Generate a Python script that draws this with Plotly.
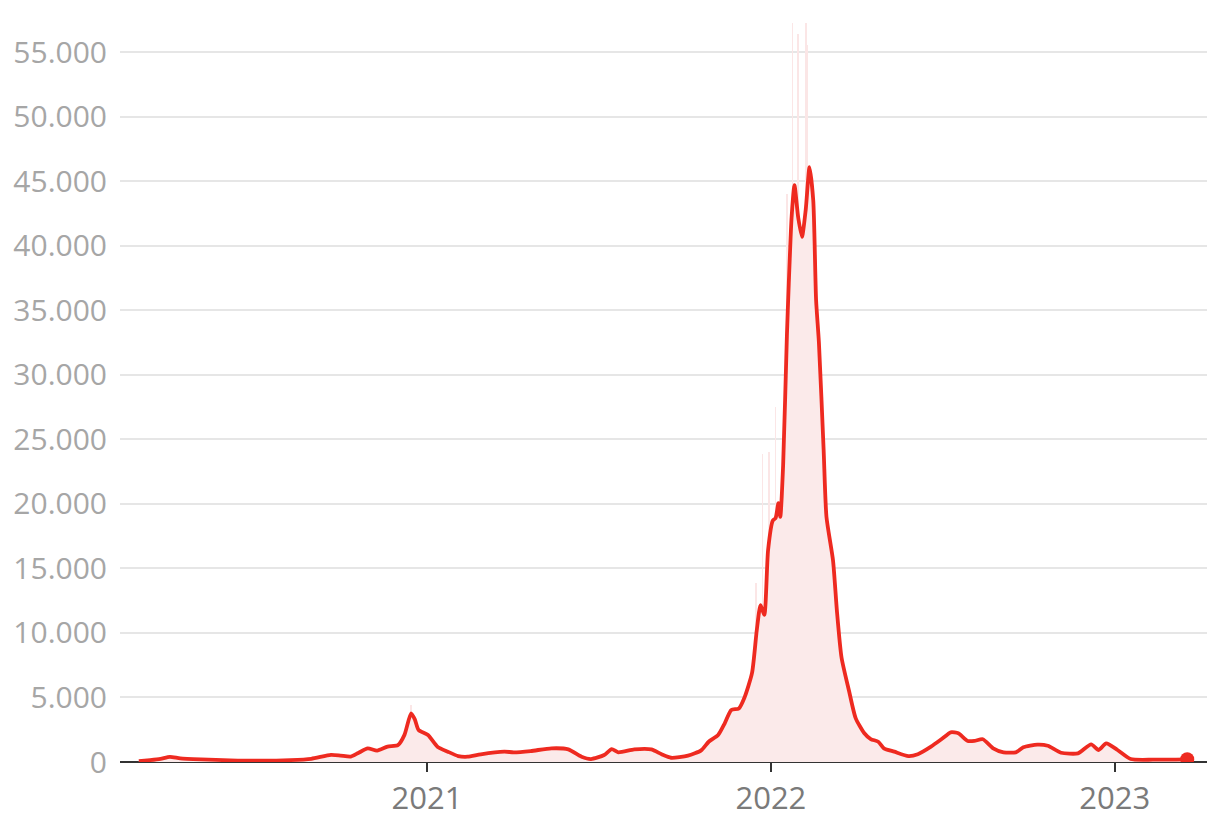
import plotly.graph_objects as go

# 7-day average of daily cases
dates = [
    "2020-03-01", "2020-03-13", "2020-03-24", "2020-04-03", "2020-04-14", "2020-05-06",
    "2020-06-06", "2020-07-08", "2020-08-09", "2020-08-31", "2020-09-21", "2020-10-01",
    "2020-10-12", "2020-10-20", "2020-10-30", "2020-11-09", "2020-11-20", "2020-12-01",
    "2020-12-08", "2020-12-15", "2020-12-19", "2020-12-23", "2021-01-02", "2021-01-12",
    "2021-01-23", "2021-02-03", "2021-02-13", "2021-02-27", "2021-03-24", "2021-04-03",
    "2021-04-21", "2021-05-13", "2021-05-31", "2021-06-14", "2021-06-24", "2021-07-08",
    "2021-07-16", "2021-07-23", "2021-08-09", "2021-08-27", "2021-09-07", "2021-09-17",
    "2021-10-05", "2021-10-19", "2021-10-27", "2021-11-06", "2021-11-13", "2021-11-20",
    "2021-11-28", "2021-12-04", "2021-12-12", "2021-12-17", "2021-12-21", "2021-12-25",
    "2021-12-29", "2022-01-03", "2022-01-06", "2022-01-09", "2022-01-11", "2022-01-14",
    "2022-01-18", "2022-01-20", "2022-01-23", "2022-01-26", "2022-01-30", "2022-02-03",
    "2022-02-07", "2022-02-11", "2022-02-15", "2022-02-18", "2022-02-21", "2022-02-26",
    "2022-03-01", "2022-03-08", "2022-03-12", "2022-03-17", "2022-03-25", "2022-04-01",
    "2022-04-10", "2022-04-17", "2022-04-25", "2022-05-01", "2022-05-12", "2022-05-27",
    "2022-06-06", "2022-06-20", "2022-07-01", "2022-07-11", "2022-07-19", "2022-07-29",
    "2022-08-05", "2022-08-14", "2022-08-25", "2022-09-05", "2022-09-18", "2022-09-26",
    "2022-10-11", "2022-10-22", "2022-11-05", "2022-11-23", "2022-12-07", "2022-12-15",
    "2022-12-23", "2023-01-04", "2023-01-18", "2023-02-11", "2023-03-19",
]
avg_cases = [
    60, 150, 250, 400, 280, 200,
    130, 100, 150, 250, 550, 500,
    420, 700, 1060, 880, 1190, 1300,
    2100, 3770, 3300, 2480, 2090, 1190,
    800, 460, 410, 600, 800, 750,
    850, 1060, 980, 410, 230, 540,
    1000, 750, 980, 980, 600, 330,
    490, 900, 1570, 2090, 3000, 4030,
    4150, 5000, 6900, 10200, 12150, 11400,
    16400, 18700, 18900, 20050, 19000, 23000,
    33000, 37100, 42200, 44700, 42200, 40700,
    42800, 46100, 43500, 35800, 32500, 24200,
    19000, 15600, 11800, 8100, 5500, 3400,
    2250, 1780, 1570, 1060, 800, 460,
    600, 1190, 1760, 2300, 2220, 1630,
    1630, 1760, 1060, 750, 750, 1140,
    1350, 1260, 720, 670, 1370, 930,
    1450, 930, 230, 180, 210,
]

# Daily values that stand out above the average (spikes)
spike_dates = [
    "2020-12-15", "2021-12-16", "2021-12-23", "2021-12-30", "2022-01-06",
    "2022-01-18", "2022-01-24", "2022-01-30", "2022-02-07", "2022-02-09",
]
spike_cases = [
    4400, 13900, 23900, 24000, 27500,
    44000, 57300, 56400, 57300, 55600,
]

tick_years = ["2021-01-01", "2022-01-01", "2023-01-01"]
tick_year_labels = ["2021", "2022", "2023"]
y_ticks = [0, 5000, 10000, 15000, 20000, 25000, 30000, 35000, 40000, 45000, 50000, 55000]

RED = "#ee2a20"
PINK = "#fbeaea"

fig = go.Figure()
fig.add_trace(go.Bar(x=spike_dates, y=spike_cases, marker=dict(color="#fbe6e6", line=dict(width=0)),
                     width=86400000 * 0.8, hoverinfo="skip", showlegend=False))
fig.add_trace(go.Scatter(x=dates, y=avg_cases, mode="lines", fill="tozeroy", fillcolor=PINK,
                         line=dict(width=0, shape="spline", smoothing=0.6), hoverinfo="skip", showlegend=False))
fig.add_trace(go.Scatter(x=dates, y=avg_cases, mode="lines",
                         line=dict(color=RED, width=3.8, shape="spline", smoothing=0.6), showlegend=False))
fig.add_trace(go.Scatter(x=[dates[-1]], y=[avg_cases[-1]], mode="markers",
                         marker=dict(color=RED, size=14), showlegend=False))

fig.update_layout(
    width=1204, height=812,
    margin=dict(l=112, r=5, t=12, b=58, autoexpand=False),
    plot_bgcolor="white", paper_bgcolor="white",
    separators=",.",
    font=dict(family="Open Sans", size=30, color="#a6a6a6"),
    bargap=0,
    xaxis=dict(
        type="date", range=["2020-02-10", "2023-04-09"],
        tickvals=tick_years, ticktext=tick_year_labels,
        tickfont=dict(color="#7a7a7a", size=31),
        ticks="outside", ticklen=9, tickwidth=2, tickcolor="#333333",
        ticklabelstandoff=0,
        showgrid=False, zeroline=False, showline=False,
    ),
    yaxis=dict(
        range=[0, 57500], tickvals=y_ticks, tickformat=",d",
        showgrid=True, gridcolor="#e6e6e6", gridwidth=2,
        zeroline=True, zerolinecolor="#333333", zerolinewidth=2,
        ticks="", ticklabelstandoff=12,
    ),
)

fig.write_html("out.html")
